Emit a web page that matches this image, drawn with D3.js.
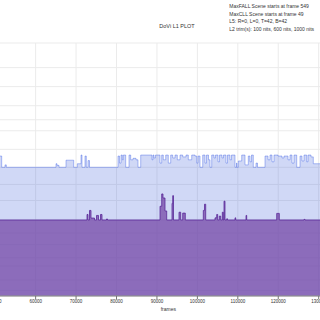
<!DOCTYPE html>
<html lang="en">
  <head>
    <meta charset="UTF-8" />
    <script src="https://d3js.org/d3.v7.min.js"></script>
    <title>DoVi L1 PLOT</title>
    <style>
      body { margin: 0; background: #fff; }
      svg { display: block; font-family: "Liberation Sans", Arial, sans-serif; }
    </style>
  </head>
  <body>
    <div id="chart"></div>
    <script>
      // shot start frames and their values in nits
      var maxFrames = [50000, 50500, 51607, 52424, 52745, 65036, 65283, 65778, 67509, 69413,
        70303, 71218, 71466, 72208, 72529, 72949, 73320, 80368, 80739, 81110,
        81431, 81679, 82272, 83089, 83509, 84078, 84820, 85314, 85982, 88777,
        89024, 89271, 89642, 90755, 91175, 91571, 92165, 92808, 93401, 93896,
        94465, 95034, 95701, 96369, 97185, 97754, 98595, 99411, 99832, 100152,
        100647, 101315, 101884, 102255, 102749, 103120, 103541, 104109, 104480, 105098,
        105469, 106088, 106459, 107077, 107448, 108066, 108437, 109303, 109674, 109797,
        110119, 110960, 111776, 112592, 113012, 113383, 113828, 114496, 114867, 116722,
        117463, 117958, 118453, 118947, 119936, 120926, 121420, 122409, 122904, 123399,
        123893, 124561, 125377, 125872, 126366, 127034, 127355, 128097, 128666, 131000];
      var maxNits = [100, 155, 100, 110, 100, 115, 108, 100, 132, 100,
        115, 161, 100, 155, 100, 130, 100, 155, 118, 161,
        134, 161, 100, 161, 134, 142, 134, 100, 161, 134,
        161, 144, 161, 118, 161, 134, 161, 118, 161, 144,
        161, 134, 161, 150, 161, 134, 161, 155, 118, 155,
        100, 161, 118, 161, 134, 100, 161, 144, 161, 124,
        161, 144, 161, 118, 161, 134, 161, 100, 118, 100,
        128, 161, 110, 155, 124, 161, 100, 118, 100, 155,
        134, 161, 124, 161, 155, 144, 155, 134, 161, 118,
        161, 100, 155, 128, 161, 124, 161, 150, 115, 115];

      var avgFrames = [50000, 72702, 72949, 73320, 73691, 74557, 75051, 75546, 76041, 76412,
        77524, 77772, 90755, 91175, 91497, 91992, 92412, 93723, 93896, 94094,
        95454, 95875, 96369, 97012, 101464, 101760, 102057, 104357, 104777, 105024,
        105420, 105766, 106162, 106409, 106582, 106829, 107250, 107448, 109303, 109476,
        112023, 112196, 119615, 120258, 126366, 126613, 131000];
      var avgNits = [10, 13.1, 10, 15.9, 11, 10, 12.5, 10, 13.1, 10,
        10.5, 10, 19.3, 33.4, 28, 15.5, 10, 22, 31, 10,
        14.6, 10, 14, 10, 15.9, 21.2, 10, 11.1, 13.1, 10,
        12.1, 10, 14.6, 10, 24.3, 10, 10.6, 10, 11.1, 10,
        12.5, 10, 13.8, 10, 10.3, 10, 10];

      var frameTicks = [50000, 60000, 70000, 80000, 90000, 100000, 110000, 120000, 130000];
      var nitsTicks = [0.01, 0.1, 0.5, 1, 2.5, 5, 10, 25, 50, 100, 200, 400, 600, 1000, 2000, 4000, 10000];

      var captionLines = [
        "MaxFALL Scene starts at frame 549",
        "MaxCLL Scene starts at frame 49",
        "L5: R=0, L=0, T=42, B=42",
        "L2 trim(s): 100 nits, 600 nits, 1000 nits"
      ];

      function pq(nits) {
        var m1 = 0.1593017578125, m2 = 78.84375,
          c1 = 0.8359375, c2 = 18.8515625, c3 = 18.6875;
        var yp = Math.pow(nits / 10000, m1);
        return Math.pow((c1 + c2 * yp) / (1 + c3 * yp), m2);
      }

      var width = 320, height = 320;

      var x = d3.scaleLinear().domain([50000, 130000]).range([-4.8, 318.7]);
      var yPq = d3.scaleLinear().domain([0, 1]).range([295.7, 43]);
      var y = function (n) { return yPq(pq(n)); };

      var svg = d3.select("#chart").append("svg")
        .attr("width", width)
        .attr("height", height);

      // mesh
      svg.append("g").selectAll("line.h")
        .data(nitsTicks)
        .enter().append("line")
        .attr("x1", 0).attr("x2", width)
        .attr("y1", function (d) { return y(d); })
        .attr("y2", function (d) { return y(d); })
        .attr("stroke", "#ebebeb").attr("stroke-width", 1);

      svg.append("g").selectAll("line.v")
        .data(frameTicks)
        .enter().append("line")
        .attr("y1", yPq(1)).attr("y2", yPq(0))
        .attr("x1", function (d) { return x(d); })
        .attr("x2", function (d) { return x(d); })
        .attr("stroke", "#ebebeb").attr("stroke-width", 1);

      function series(frames, nits) {
        return frames.map(function (f, i) { return { f: f, v: nits[i] }; });
      }

      var area = d3.area()
        .curve(d3.curveStepAfter)
        .x(function (d) { return x(d.f); })
        .y0(yPq(0))
        .y1(function (d) { return y(d.v); });

      var line = d3.line()
        .curve(d3.curveStepAfter)
        .x(function (d) { return x(d.f); })
        .y(function (d) { return y(d.v); });

      var maxData = series(maxFrames, maxNits),
        avgData = series(avgFrames, avgNits);

      svg.append("path").datum(maxData)
        .attr("d", area)
        .attr("fill", "rgba(67,99,219,0.25)");
      svg.append("path").datum(maxData)
        .attr("d", line)
        .attr("fill", "none")
        .attr("stroke", "rgba(60,95,230,0.5)")
        .attr("stroke-width", 0.8);

      svg.append("path").datum(avgData)
        .attr("d", area)
        .attr("fill", "rgba(111,62,163,0.7)");
      svg.append("path").datum(avgData)
        .attr("d", line)
        .attr("fill", "none")
        .attr("stroke", "rgba(85,35,150,0.75)")
        .attr("stroke-width", 1);

      // x axis
      var axisY = 296;
      svg.append("line")
        .attr("x1", 0).attr("x2", width)
        .attr("y1", axisY).attr("y2", axisY)
        .attr("stroke", "#777").attr("stroke-width", 1);

      var ticks = svg.append("g").selectAll("g")
        .data(frameTicks)
        .enter().append("g")
        .attr("transform", function (d) { return "translate(" + x(d) + "," + axisY + ")"; });
      ticks.append("line").attr("y2", 3).attr("stroke", "#777");
      ticks.append("text")
        .attr("y", 6.5)
        .attr("text-anchor", "middle")
        .attr("font-size", 4.5)
        .attr("fill", "#333")
        .text(function (d) { return d; });

      svg.append("text")
        .attr("x", 168.3).attr("y", 311)
        .attr("text-anchor", "middle")
        .attr("font-size", 5)
        .attr("fill", "#333")
        .text("frames");

      svg.append("text")
        .attr("x", 177).attr("y", 28)
        .attr("text-anchor", "middle")
        .attr("font-size", 5.5)
        .attr("fill", "#333")
        .text("DoVi L1 PLOT");

      svg.append("g").selectAll("text")
        .data(captionLines)
        .enter().append("text")
        .attr("x", 229.3)
        .attr("y", function (d, i) { return 7.8 + i * 7.8; })
        .attr("font-size", 5)
        .attr("fill", "#333")
        .text(function (d) { return d; });
    </script>
  </body>
</html>
